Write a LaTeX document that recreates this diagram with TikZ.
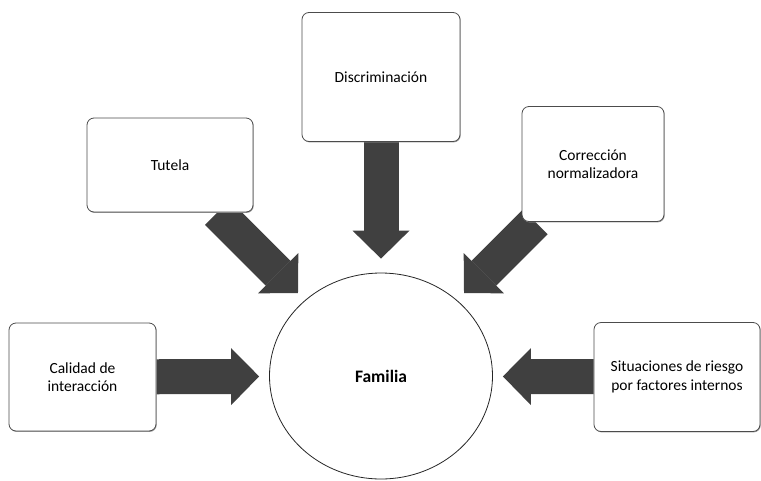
\documentclass[tikz,border=0pt]{standalone}
\usepackage{fontspec}
\setmainfont{Carlito}
\usetikzlibrary{arrows.meta,shapes.geometric,backgrounds,shadows}

\begin{document}
\begin{tikzpicture}[
    x=1pt, y=-1pt,
    factor/.style={rectangle, draw=black!70, line width=0.8pt, fill=white, rounded corners=7pt, align=center, font=\fontsize{15.5}{18.5}\selectfont,
        drop shadow={shadow xshift=0.7pt, shadow yshift=-0.9pt, fill=black!40, opacity=1}},
    core/.style={ellipse, draw=black!85, line width=0.8pt, fill=white, minimum width=223pt, minimum height=206pt, font=\fontsize{17.5}{20}\selectfont\bfseries},
    push/.style={draw=black!75, line width=35pt, -{Triangle[length=28pt, width=57pt, line width=0pt]}, shorten >=10pt}
]
    \useasboundingbox (0,0) rectangle (761,480);

    % Centre
    \node [core] (familia) at (381,376) {Familia};

    % Factors around the family
    \node [factor, minimum width=166pt, minimum height=94pt] (tutela) at (170,165) {Tutela};
    \node [factor, minimum width=158pt, minimum height=129pt] (discrim) at (381,77) {Discriminación};
    \node [factor, minimum width=142pt, minimum height=115pt] (correccion) at (593,164) {Corrección\\normalizadora};
    \node [factor, minimum width=147pt, minimum height=108pt] (calidad) at (82.5,377) {Calidad de\\interacción};
    \node [factor, minimum width=166pt, minimum height=109pt] (riesgo) at (677,377) {Situaciones de riesgo\\por factores internos};

    % Arrows
    \begin{scope}[on background layer]
        \draw [push] (tutela) -- (familia);
        \draw [push, shorten >=14pt] (discrim) -- (familia);
        \draw [push] (correccion) -- (familia);
        \draw [push] (calidad) -- (familia);
        \draw [push] (riesgo) -- (familia);
    \end{scope}
\end{tikzpicture}
\end{document}
